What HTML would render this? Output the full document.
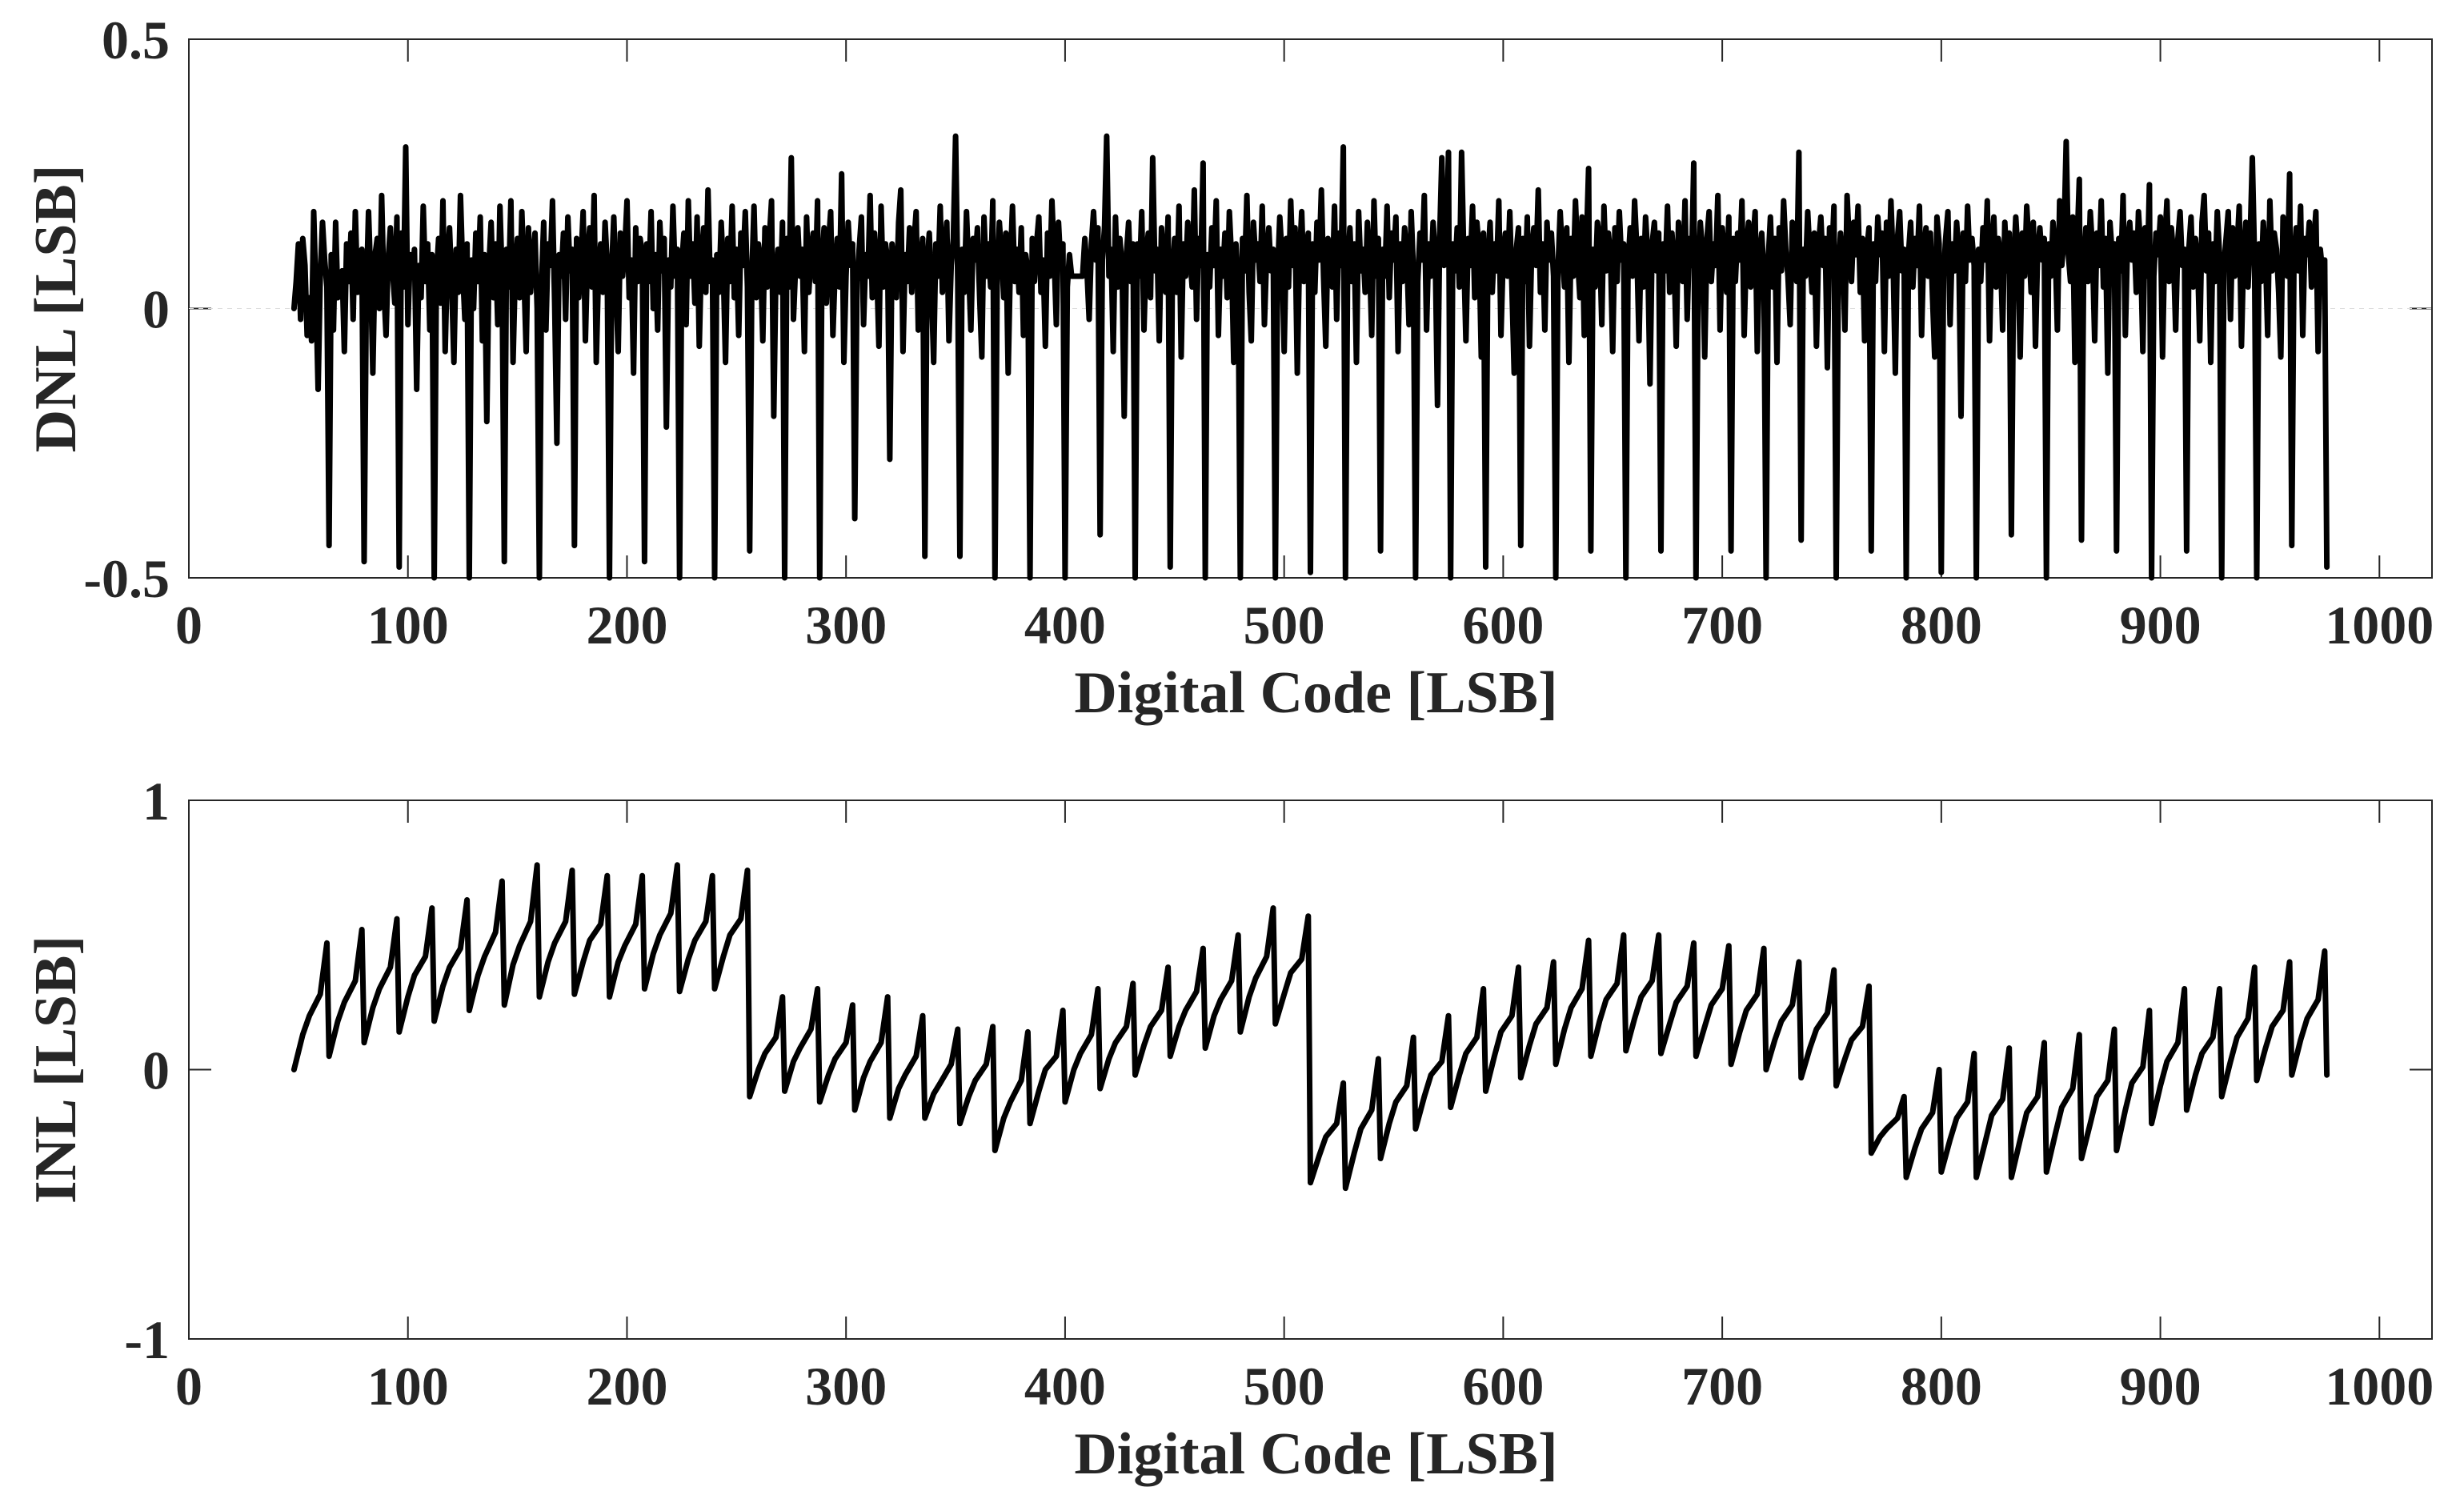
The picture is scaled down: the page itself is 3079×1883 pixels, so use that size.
<!DOCTYPE html>
<html>
<head>
<meta charset="utf-8">
<style>
html,body{margin:0;padding:0;background:#fff;}
svg{display:block;}
text{font-family:"Liberation Serif",serif;font-weight:bold;fill:#262626;}
</style>
</head>
<body>
<svg id="fig" width="3079" height="1883" viewBox="0 0 3079 1883" xmlns="http://www.w3.org/2000/svg">
<rect x="0" y="0" width="3079" height="1883" fill="#fff"/>
<g id="dnl"></g>
<g id="inl"></g>
</svg>
<script>
// ---- data ----
const xTicks = [0,100,200,300,400,500,600,700,800,900,1000];
const xTickLabels = ["0","100","200","300","400","500","600","700","800","900","1000"];
const dnlYTicks = [-0.5,0,0.5];
const dnlYTickLabels = ["-0.5","0","0.5"];
const inlYTicks = [-1,0,1];
const inlYTickLabels = ["-1","0","1"];
const dnlStartCode = 48;
// DNL per code, starting at code 48 (blocks of 16 codes)
const dnlValues = [
0.0,.05,.12,-.02,.13,.08,-.05,.02,-.06,.18,.03,-.15,.06,.16,.09,.04,
-.44,.1,-.04,.16,.02,.06,.07,-.08,.12,.05,.14,-.02,.18,.03,.08,.11,
-.47,.02,.18,.06,-.12,.1,.13,.0,.21,.04,-.05,.09,.15,.07,.01,.17,
-.48,.14,.04,.3,-.03,.1,.06,.11,-.15,.08,.02,.19,.05,.12,-.04,.1,
-.5,.06,.13,.01,.2,-.08,.09,.15,.04,-.1,.11,.03,.21,.07,-.02,.12,
-.5,.09,.0,.14,.05,.17,-.06,.1,-.21,.08,.16,.02,.12,-.03,.19,.06,
-.47,.11,.04,.2,-.1,.07,.13,.02,.18,.06,-.08,.15,.03,.09,.14,.0,
-.5,.05,.16,-.04,.12,.08,.2,.01,-.25,.1,.06,.14,-.02,.17,.07,.11,
-.44,.13,.02,.09,.18,-.06,.1,.15,.04,.21,-.1,.07,.12,.03,.16,.08,
-.5,.07,.17,.03,-.08,.14,.06,.11,.2,.02,.09,-.12,.15,.05,.13,.1,
-.47,.12,.05,.18,.0,.1,-.04,.16,.07,.13,-.22,.09,.04,.19,.06,.11,
-.5,.08,.14,-.03,.2,.06,.12,.01,.17,-.07,.1,.15,.03,.22,.05,.09,
-.5,.1,.03,.16,.07,-.1,.13,.05,.19,.02,.11,-.05,.14,.08,.18,.04,
-.45,.06,.19,.02,.12,.09,-.06,.15,.04,.13,.2,-.2,.07,.11,.03,.16,
-.5,.13,.04,.28,-.02,.08,.15,.06,.11,-.08,.17,.03,.1,.14,.05,.2,
-.5,.09,.15,.01,.12,.18,-.05,.07,.13,.04,.25,-.1,.06,.16,.08,.12,
-.39,.05,.11,.17,-.03,.1,.06,.21,.02,.14,.08,-.07,.19,.04,.12,.09,
-.28,.12,.07,.02,.16,.22,-.08,.1,.05,.15,.03,.12,.18,-.04,.09,.13,
-.46,.08,.14,.04,-.1,.12,.06,.19,.03,.11,.16,-.06,.08,.13,.32,.05,
-.46,.11,.03,.18,.07,-.04,.13,.09,.15,.02,-.09,.17,.06,.12,.04,.2,
-.5,.06,.16,.1,.02,.14,-.12,.08,.19,.05,.11,.03,.15,-.05,.1,.07,
-.5,.13,.05,.12,.17,.03,.09,-.07,.14,.06,.2,.1,-.03,.16,.08,.12,
-.5,.04,.1,.06,.06,.06,.06,.06,.06,.13,.07,-.02,.12,.18,.09,.15,
-.42,.09,.15,.32,.06,.11,-.08,.17,.04,.13,.08,-.2,.1,.16,.05,.12,
-.5,.12,.06,.18,-.04,.1,.14,.02,.28,.07,.11,-.06,.15,.09,.03,.17,
-.48,.07,.13,.03,.19,-.09,.12,.06,.16,.1,.04,.22,-.02,.13,.08,.27,
-.5,.1,.04,.15,.08,.2,-.05,.11,.06,.14,.02,.18,.09,-.1,.12,.05,
-.5,.13,.07,.21,.03,-.06,.16,.09,.12,.05,.19,-.03,.1,.15,.07,.11,
-.5,.06,.17,.1,-.08,.13,.04,.2,.08,.15,-.12,.09,.18,.05,.11,.14,
-.49,.12,.03,.16,.09,.22,.06,-.07,.13,.1,.04,.19,-.02,.14,.08,.3,
-.5,.08,.15,.05,.12,-.1,.18,.07,.11,.03,.16,.09,-.05,.2,.06,.13,
-.45,.11,.06,.19,.02,.14,.09,.17,-.08,.12,.05,.15,.1,-.03,.18,.07,
-.5,.05,.14,.09,.21,-.04,.12,.06,.16,.1,-.18,.13,.28,.08,.11,.29,
-.5,.12,.07,.15,.04,.29,.1,-.06,.13,.08,.19,.02,.16,.11,-.09,.14,
-.48,.09,.16,.03,.12,.07,.2,-.05,.1,.14,.06,.18,.04,-.12,.11,.15,
-.44,.13,.05,.17,-.07,.11,.15,.08,.22,.03,.12,-.04,.16,.09,.14,.06,
-.5,.07,.18,.1,.04,.15,-.1,.13,.06,.2,.09,.02,.17,-.05,.12,.26,
-.45,.11,.04,.16,.13,-.03,.19,.07,.14,.1,-.08,.15,.05,.18,.09,.12,
-.5,.08,.15,.06,.2,.11,-.06,.13,.04,.17,.1,-.14,.12,.16,.07,.14,
-.45,.12,.07,.19,.03,.14,.09,-.07,.16,.11,.05,.2,-.02,.13,.08,.27,
-.5,.06,.16,.1,-.09,.13,.18,.05,.12,.08,.21,-.04,.15,.1,.03,.17,
-.45,.13,.05,.14,.09,.2,-.05,.11,.16,.04,.12,.18,-.08,.1,.14,.07,
-.5,.09,.17,.04,.13,-.1,.15,.07,.2,.11,.06,-.03,.16,.12,.05,.29,
-.43,.11,.06,.18,.1,.03,.14,-.07,.12,.17,.08,.13,-.11,.15,.09,.19,
-.5,.07,.14,.09,-.04,.21,.12,.05,.16,.1,.19,.03,.13,-.06,.11,.15,
-.45,.12,.05,.17,.1,.14,-.08,.16,.06,.2,.09,-.12,.13,.18,.07,.11,
-.5,.1,.16,.04,.13,.08,.19,-.05,.11,.15,.06,.14,.02,-.09,.17,.12,
-.49,.06,.13,.18,-.03,.12,.07,.16,.1,-.2,.14,.05,.19,.09,.13,.08,
-.5,.11,.05,.15,.09,.2,-.06,.12,.17,.04,.13,.1,-.04,.16,.07,.14,
-.42,.08,.17,.1,-.09,.14,.06,.19,.12,.03,.16,-.07,.11,.15,.09,.13,
-.5,.12,.06,.16,.11,-.04,.2,.08,.13,.31,.1,.05,.17,-.1,.12,.24,
-.43,.09,.15,.05,.18,.11,-.06,.14,.08,.2,.04,.13,-.12,.16,.1,.12,
-.45,.13,.07,.21,-.05,.12,.16,.09,.14,.03,.18,.11,-.08,.15,.06,.23,
-.5,.06,.14,.1,.17,-.09,.12,.2,.05,.15,.1,-.04,.13,.18,.08,.11,
-.45,.11,.17,.04,.13,.09,-.06,.16,.21,.07,.14,-.1,.12,.05,.18,.1,
-.5,.08,.13,.18,-.02,.15,.06,.11,.19,-.07,.1,.16,.04,.13,.28,.09,
-.5,.12,.05,.16,.1,-.05,.2,.07,.14,.11,.03,-.09,.17,.12,.06,.25,
-.44,.09,.15,.07,.19,-.05,.13,.1,.16,.04,.12,.18,-.08,.11,.07,.09,
-.48
];
// INL: one entry per 16-code block starting at code 48
const inlBlockStart = [48,64,80,96,112,128,144,160,176,192,208,224,240,256,272,288,304,320,336,352,368,384,400,416,432,448,464,480,496,512,528,544,560,576,592,608,624,640,656,672,688,704,720,736,752,768,784,800,816,832,848,864,880,896,912,928,944,960];
const inlTrough = [0.0,0.05,0.1,0.14,0.18,0.22,0.24,0.27,0.28,0.27,0.3,0.29,0.3,-0.1,-0.08,-0.12,-0.15,-0.18,-0.18,-0.2,-0.3,-0.2,-0.12,-0.07,-0.02,0.05,0.08,0.14,0.17,-0.42,-0.44,-0.33,-0.22,-0.14,-0.08,-0.03,0.02,0.05,0.07,0.06,0.05,0.02,0.0,-0.03,-0.06,-0.31,-0.4,-0.38,-0.4,-0.4,-0.38,-0.33,-0.3,-0.2,-0.15,-0.1,-0.04,-0.02];
const inlQ1 = [0.13,0.18,0.23,0.27,0.31,0.35,0.39,0.40,0.40,0.40,0.43,0.41,0.42,0.0,0.03,-0.02,-0.03,-0.07,-0.09,-0.1,-0.18,-0.08,0.0,0.04,0.09,0.16,0.2,0.27,0.28,-0.32,-0.31,-0.2,-0.1,-0.02,0.05,0.09,0.15,0.18,0.19,0.17,0.16,0.14,0.11,0.08,0.04,-0.25,-0.29,-0.26,-0.27,-0.26,-0.24,-0.2,-0.15,-0.06,-0.02,0.03,0.08,0.11];
const inlMid = [0.2,0.25,0.3,0.35,0.38,0.42,0.46,0.47,0.48,0.46,0.5,0.48,0.5,0.06,0.08,0.04,0.03,-0.02,-0.05,-0.04,-0.12,0.0,0.06,0.1,0.16,0.22,0.26,0.34,0.36,-0.25,-0.22,-0.12,-0.02,0.06,0.14,0.17,0.23,0.26,0.27,0.25,0.24,0.22,0.18,0.15,0.11,-0.22,-0.22,-0.18,-0.17,-0.16,-0.14,-0.1,-0.05,0.03,0.06,0.12,0.16,0.19];
const inlQ3 = [0.28,0.33,0.38,0.42,0.45,0.51,0.55,0.55,0.54,0.54,0.58,0.55,0.56,0.12,0.15,0.10,0.10,0.05,0.02,0.02,-0.04,0.05,0.13,0.16,0.22,0.29,0.33,0.42,0.41,-0.2,-0.15,-0.06,0.03,0.12,0.2,0.23,0.3,0.32,0.33,0.31,0.3,0.28,0.24,0.21,0.16,-0.18,-0.16,-0.12,-0.11,-0.1,-0.07,-0.04,0.01,0.1,0.12,0.19,0.22,0.26];
const inlPeak = [0.47,0.52,0.56,0.6,0.63,0.7,0.76,0.74,0.72,0.72,0.76,0.72,0.74,0.27,0.3,0.24,0.27,0.2,0.15,0.16,0.14,0.22,0.3,0.32,0.38,0.45,0.5,0.6,0.57,-0.05,0.04,0.12,0.2,0.3,0.38,0.4,0.48,0.5,0.5,0.47,0.46,0.45,0.4,0.37,0.31,-0.1,0.0,0.06,0.08,0.1,0.13,0.15,0.22,0.3,0.3,0.38,0.4,0.44];
const inlEndCode = 976;
const inlEndValue = -0.02;

// ---- layout ----
const NS = "http://www.w3.org/2000/svg";
const X0 = 236, X1 = 3039, XMAX = 1024;
const xScale = v => X0 + (v / XMAX) * (X1 - X0);
function mk(tag, attrs, parent){
  const e = document.createElementNS(NS, tag);
  for (const k in attrs) e.setAttribute(k, attrs[k]);
  parent.appendChild(e);
  return e;
}
function drawAxes(g, top, bottom, ymin, ymax, yTicks, yLabels, yTitle, prefix){
  const yScale = v => bottom - (v - ymin) / (ymax - ymin) * (bottom - top);
  const frame = mk("rect", {x:X0, y:top, width:X1-X0, height:bottom-top, fill:"none", stroke:"#262626", "stroke-width":2}, g);
  
  
  xTicks.forEach((t, i) => {
    const x = xScale(t);
    const tk = mk("path", {d:`M${x},${bottom}v-28M${x},${top}v28`, stroke:"#262626", "stroke-width":2}, g);
    
    
    const lb = mk("text", {x:x, y:bottom+82, "font-size":68, "text-anchor":"middle"}, g);
    lb.textContent = xTickLabels[i];
    
    
  });
  yTicks.forEach((t, i) => {
    const y = yScale(t);
    const tk = mk("path", {d:`M${X0},${y}h28M${X1},${y}h-28`, stroke:"#262626", "stroke-width":2}, g);
    
    
    const lb = mk("text", {x:212, y:y+24, "font-size":68, "text-anchor":"end"}, g);
    lb.textContent = yLabels[i];
    
    
  });
  const xt = mk("text", {x:(X0+X1)/2 + 7, y:bottom+168, "font-size":74, "text-anchor":"middle"}, g);
  xt.textContent = "Digital Code [LSB]";
  
  
  const cy = (top+bottom)/2;
  const yt = mk("text", {x:0, y:0, "font-size":74, "text-anchor":"middle", transform:`translate(94,${cy}) rotate(-90)`}, g);
  yt.textContent = yTitle;
  
  
  return yScale;
}

// DNL
const gD = document.getElementById("dnl");
const yD = drawAxes(gD, 49, 722, -0.5, 0.5, dnlYTicks, dnlYTickLabels, "DNL [LSB]", "dnl");
const zl = mk("line", {x1:X0, x2:X1, y1:yD(0), y2:yD(0), stroke:"#ddd", "stroke-width":1, "stroke-dasharray":"6,6"}, gD);


let dp = "";
dnlValues.forEach((v, i) => {
  const c = Math.max(-0.5, Math.min(0.5, v));
  dp += (i ? "L" : "M") + xScale(dnlStartCode + i).toFixed(1) + "," + yD(c).toFixed(1);
});
const dl = mk("path", {d:dp, fill:"none", stroke:"#000", "stroke-width":7, "stroke-linejoin":"round", "stroke-linecap":"round"}, gD);



// INL
const gI = document.getElementById("inl");
const yI = drawAxes(gI, 1000, 1673, -1, 1, inlYTicks, inlYTickLabels, "INL [LSB]", "inl");
let ip = "";
inlBlockStart.forEach((c, i) => {
  ip += (i ? "L" : "M") + xScale(c).toFixed(1) + "," + yI(inlTrough[i]).toFixed(1);
  ip += "L" + xScale(c+4).toFixed(1) + "," + yI(inlQ1[i]).toFixed(1);
  ip += "L" + xScale(c+7).toFixed(1) + "," + yI(inlMid[i]).toFixed(1);
  ip += "L" + xScale(c+12).toFixed(1) + "," + yI(inlQ3[i]).toFixed(1);
  ip += "L" + xScale(c+15).toFixed(1) + "," + yI(inlPeak[i]).toFixed(1);
});
ip += "L" + xScale(inlEndCode).toFixed(1) + "," + yI(inlEndValue).toFixed(1);
const il = mk("path", {d:ip, fill:"none", stroke:"#000", "stroke-width":7, "stroke-linejoin":"round", "stroke-linecap":"round"}, gI);


</script>
</body>
</html>
